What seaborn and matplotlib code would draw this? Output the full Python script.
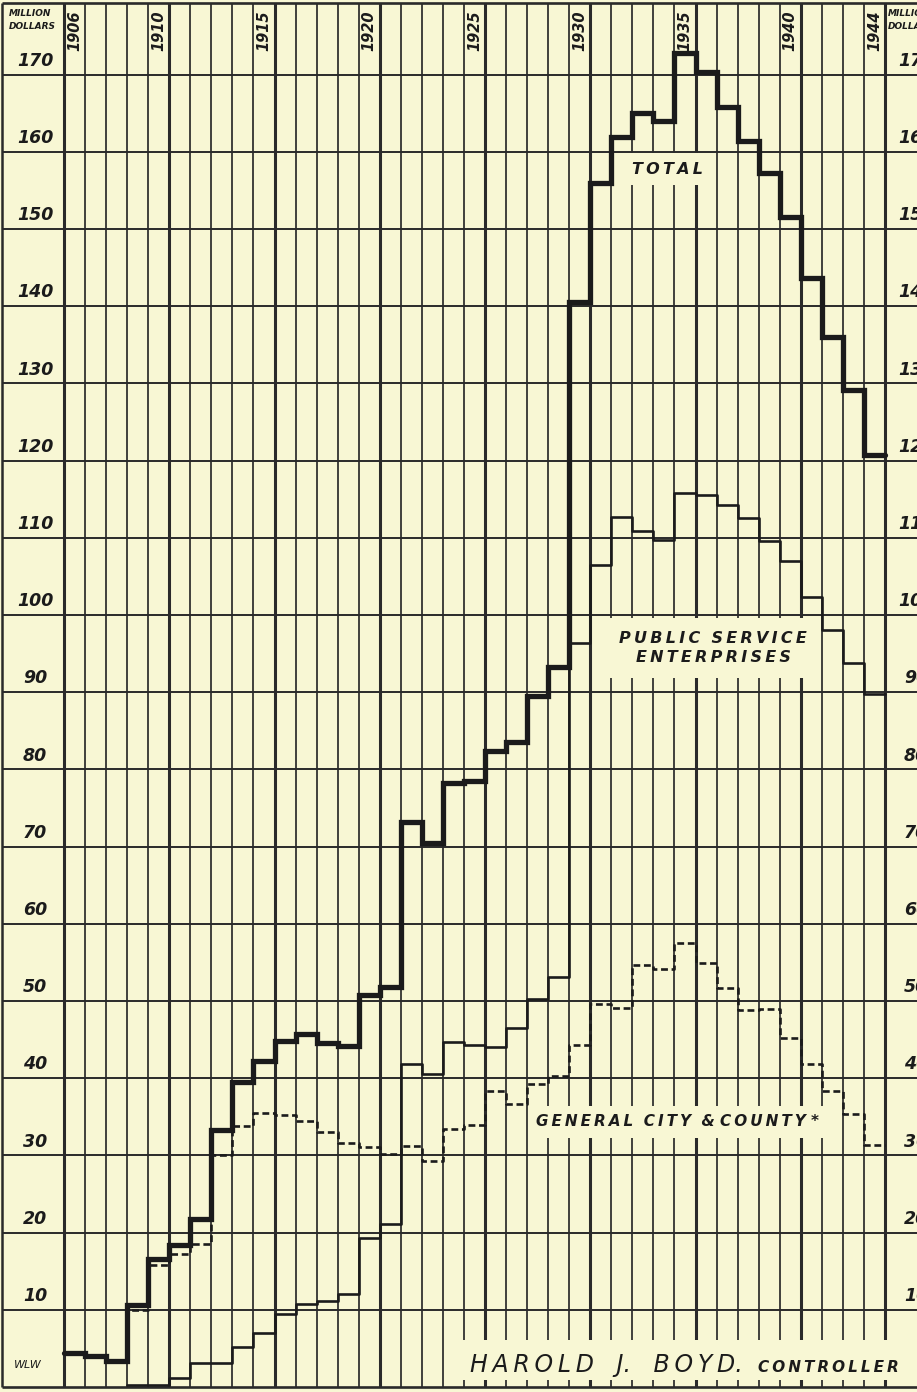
import pandas as pd
import seaborn as sns
import matplotlib.pyplot as plt
from matplotlib.patches import Rectangle

# bonded debt, million dollars
years = list(range(1906, 1945))
total = [4.4, 4.0, 3.4, 10.6, 16.6, 18.4, 21.8, 33.3, 39.5, 42.2,
         44.8, 45.7, 44.6, 44.2, 50.8, 51.8, 73.2, 70.5, 78.2, 78.5,
         82.4, 83.5, 89.5, 93.3, 140.5, 156.0, 161.9, 165.0, 164.0, 172.8,
         170.3, 165.8, 161.4, 157.3, 151.6, 143.7, 136.0, 129.2, 120.7]
ps_years = list(range(1909, 1945))
public_service = [0.3, 0.3, 1.2, 3.1, 3.1, 5.2, 7.0, 9.5, 10.7, 11.2,
                  12.0, 19.3, 21.1, 41.8, 40.5, 44.7, 44.3, 44.0, 46.5, 50.3,
                  53.1, 96.4, 106.5, 112.7, 110.9, 109.7, 115.8, 115.6, 114.2, 112.6,
                  109.6, 107.0, 102.3, 98.1, 93.8, 89.8]
general = [4.4, 4.0, 3.4, 10.0, 15.8, 17.2, 18.5, 30.0, 33.8, 35.5,
           35.2, 34.5, 33.0, 31.6, 31.1, 30.2, 31.2, 29.3, 33.4, 34.0,
           38.4, 36.7, 39.3, 40.3, 44.3, 49.6, 49.1, 54.7, 54.2, 57.5,
           54.9, 51.7, 48.8, 49.0, 45.2, 41.8, 38.3, 35.3, 31.3]

year_labels = [1906, 1910, 1915, 1920, 1925, 1930, 1935, 1940, 1944]
value_ticks = list(range(10, 180, 10))

PAPER = "#f8f7d4"
INK = "#1b1b1b"
GRID = "#2a2a2a"

sns.set_style("white")
plt.rcParams["font.family"] = ["DejaVu Sans"]

W, H = 917, 1392
fig = plt.figure(figsize=(W / 100, H / 100), dpi=100, facecolor=PAPER)
ax = fig.add_axes([0, 0, 1, 1])
ax.set_facecolor(PAPER)

# sheet geometry in pixels
COL = 21.05   # px per year column
X0 = 64       # left edge of 1906 column
Y0 = 1387     # zero line
UNIT = 7.72   # px per million


def px(x):
    return 1906 + (x - X0) / COL


def py(y):
    return (Y0 - y) / UNIT


def spaced(s):
    return "\u2009".join(s)


top = py(3)
edges = list(range(1906, 1946))

# vertical rulings
for e in edges:
    heavy = (e - 1906) % 5 == 0 or e == 1945
    ax.vlines(e, 0, top, color=GRID, lw=2.2 if heavy else 1.25, zorder=1)
ax.vlines(px(2), 0, top, color=GRID, lw=1.8, zorder=1)

# horizontal rulings
ax.hlines(value_ticks, px(2), px(W), color=GRID, lw=1.4, zorder=2.5)
ax.hlines([0, top], px(2), px(W), color=GRID, lw=1.9, zorder=2.5)


def steps(x, v):
    return pd.DataFrame({"year": list(x) + [x[-1] + 1],
                         "value": list(v) + [v[-1]]})


sns.lineplot(data=steps(years, general), x="year", y="value", ax=ax,
             color=INK, lw=1.9, linestyle=(0, (2.6, 1.4)),
             drawstyle="steps-post", estimator=None, zorder=4)
sns.lineplot(data=steps(ps_years, public_service), x="year", y="value", ax=ax,
             color=INK, lw=1.9, drawstyle="steps-post", estimator=None, zorder=5)
sns.lineplot(data=steps(years, total), x="year", y="value", ax=ax,
             color=INK, lw=3.8, drawstyle="steps-post", estimator=None,
             zorder=6, solid_joinstyle="miter")
ax.set_xlim(px(0), px(W))
ax.set_ylim(py(H), py(0))
ax.axis("off")

lab = dict(color=INK, fontweight="bold", fontstyle="italic")

# year headings
for yr in year_labels:
    ax.text(yr + 0.5, py(31), str(yr), rotation=90, ha="center", va="center",
            fontsize=10.5, zorder=7, **lab)

# value scale, left and (cut off by the sheet edge) right
for v in value_ticks:
    ax.text(px(35), v + 1.8, str(v), ha="center", va="center",
            fontsize=12.5, zorder=7, **lab)
    ax.text(px(916), v + 1.8, str(v), ha="center", va="center",
            fontsize=12.5, zorder=7, **lab)
for x0 in (px(9), px(888)):
    ax.text(x0, py(13), "MILLION", ha="left", va="center", fontsize=6.5,
            zorder=7, **lab)
    ax.text(x0, py(26), "DOLLARS", ha="left", va="center", fontsize=6.5,
            zorder=7, **lab)

ax.text(px(28), py(1365), "WLW", ha="center", va="center", fontsize=8,
        fontstyle="italic", color=INK, zorder=7)

# series names on paper-coloured patches
box = dict(facecolor=PAPER, edgecolor="none", pad=6)
ax.text(px(668), py(169), spaced("TOTAL"), ha="center", va="center",
        fontsize=11.5, zorder=2, bbox=box, **lab)
ax.text(px(713), py(648), spaced("PUBLIC") + "  " + spaced("SERVICE") + "\n"
        + spaced("ENTERPRISES"), ha="center", va="center", linespacing=1.35,
        fontsize=11.5, zorder=2,
        bbox=dict(facecolor=PAPER, edgecolor="none", pad=9), **lab)
ax.text(px(678), py(1122), spaced("GENERAL") + "  " + spaced("CITY") + "  & "
        + spaced("COUNTY") + " *", ha="center", va="center",
        fontsize=11, zorder=2, bbox=box, **lab)

# signature band
ax.add_patch(Rectangle((px(452), py(1380)), px(W) - px(452), py(1340) - py(1380),
                       facecolor=PAPER, edgecolor="none", zorder=2))
ax.text(px(470), py(1372), spaced("HAROLD") + "   J.   " + spaced("BOYD") + ".",
        ha="left", va="baseline", fontsize=17, fontstyle="italic",
        color=INK, zorder=7)
ax.text(px(758), py(1372), spaced("CONTROLLER"), ha="left", va="baseline",
        fontsize=11, zorder=7, **lab)

fig.savefig("out.png", dpi=100, facecolor=PAPER)
